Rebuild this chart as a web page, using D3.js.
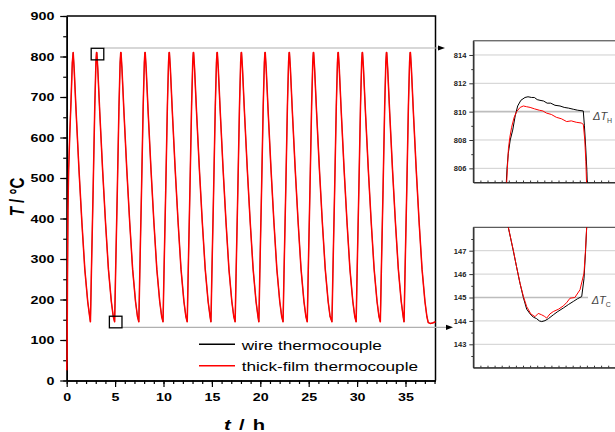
<!DOCTYPE html>
<html>
<head>
<meta charset="utf-8">
<script src="https://cdn.jsdelivr.net/npm/d3@7"></script>
<style>
  body { margin: 0; background: #fff; }
  svg { display: block; font-family: Arial, "Liberation Sans", sans-serif; }
</style>
</head>
<body>
<svg id="chart" width="615" height="432"></svg>
<script>
//DATA (main chart, t in h, T in °C)
const troughTimes = [2.45, 4.95, 7.45, 9.95, 12.45, 14.9, 17.4, 19.85, 22.35, 24.85, 27.4, 29.9, 32.4, 34.85, 37.35];
const warmUp = [[0, 25], [0.04, 60], [0.08, 250], [0.13, 420], [0.2, 520], [0.32, 610], [0.45, 692], [0.58, 785], [0.67, 810]];
const heatUp = [[0, 145], [0.04, 190], [0.1, 265], [0.28, 470], [0.45, 676], [0.57, 785], [0.63, 810], [0.66, 810]];
const coolDown = [[0.1, 770], [0.3, 665], [0.6, 520], [0.9, 390], [1.2, 275], [1.5, 195], [1.7, 158]];
const endHold = [[37.55, 141], [37.8, 142], [38.1, 145]];
const xTicks = [0, 5, 10, 15, 20, 25, 30, 35];
const yTicks = [0, 100, 200, 300, 400, 500, 600, 700, 800, 900];
const seriesNames = ['wire thermocouple', 'thick-film thermocouple'];
const seriesColors = ['#000000', '#ff0000'];

//DATA (insets, x in arbitrary time steps)
const hotWire = [[4.55, 804], [4.75, 806], [4.93, 807.06], [5.2, 808.0], [5.55, 808.7], [5.9, 809.7], [6.25, 810.4], [6.7, 810.8], [7.28, 811.0], [7.7, 811.05], [8.22, 811.0], [8.6, 811.0], [9.0, 810.85], [9.39, 810.8], [9.9, 810.75], [10.4, 810.6], [10.9, 810.6], [11.5, 810.45], [12.21, 810.4], [12.8, 810.3], [13.4, 810.25], [14.08, 810.17], [14.7, 810.1], [15.49, 810.05], [15.65, 809.0], [15.83, 807.5], [16.0, 805.8], [16.11, 804]];
const hotFilm = [[4.6, 804], [4.8, 806], [4.95, 807.4], [5.15, 808.2], [5.4, 808.9], [5.75, 809.6], [6.1, 810.0], [6.6, 810.3], [7.05, 810.4], [7.5, 810.35], [8.0, 810.3], [8.6, 810.2], [9.3, 810.1], [9.8, 810.05], [10.3, 809.9], [11.0, 809.8], [11.7, 809.6], [12.4, 809.5], [13.15, 809.3], [13.8, 809.35], [14.5, 809.25], [15.2, 809.2], [15.5, 809.1], [15.7, 808], [15.85, 806.5], [15.95, 805], [16.0, 804]];
const coldWire = [[4.8, 148.5], [4.93, 148], [5.63, 147.0], [6.1, 146.3], [6.58, 145.6], [7.05, 145.0], [7.52, 144.5], [8.0, 144.3], [8.45, 144.16], [8.9, 144.1], [9.3, 144.0], [9.63, 143.97], [10.1, 144.01], [10.6, 144.1], [11.27, 144.26], [11.9, 144.4], [12.68, 144.55], [13.4, 144.7], [14.08, 144.83], [14.7, 144.95], [15.27, 145.04], [15.59, 145.8], [15.8, 146.9], [15.97, 148], [16.05, 148.5]];
const coldFilm = [[4.8, 148.5], [4.93, 148], [5.63, 147.03], [6.1, 146.3], [6.58, 145.61], [7.05, 145.05], [7.52, 144.61], [8.1, 144.3], [8.69, 144.18], [9.15, 144.32], [9.63, 144.26], [10.0, 144.2], [10.34, 144.12], [10.8, 144.3], [11.27, 144.4], [12.0, 144.5], [12.68, 144.64], [13.2, 144.8], [13.62, 144.97], [14.3, 145.0], [15.03, 145.33], [15.59, 146.04], [15.8, 147.0], [15.97, 148], [16.05, 148.5]];
const hotTicks = [806, 808, 810, 812, 814];
const coldTicks = [143, 144, 145, 146, 147];

//ZOOM BOXES (t, T)
const zoomBoxes = [{t: 3.18, T: 806}, {t: 5.06, T: 144.4}];

const stretch = 'scale(1.3,1)';
const svg = d3.select('#chart');

//BUILD MAIN SERIES FROM THE CYCLE PIECES
const buildSeries = () => {
    const pts = warmUp.map(d => [d[0], d[1]]);
    const firstPeak = warmUp[warmUp.length - 1][0];
    coolDown.forEach(d => pts.push([firstPeak + d[0], d[1]]));
    troughTimes.forEach((t0, i) => {
        if (i === troughTimes.length - 1) {
            pts.push([t0, 143]);
            endHold.forEach(d => pts.push(d));
            return;
        }
        heatUp.forEach(d => pts.push([t0 + d[0], d[1]]));
        const peak = t0 + heatUp[heatUp.length - 1][0];
        coolDown.forEach(d => pts.push([peak + d[0], d[1]]));
    });
    return pts;
}
const mainSeries = buildSeries();

//MAIN SCALES
const x = d3.scaleLinear().domain([0, 38.1]).range([66.7, 435.5]);
const y = d3.scaleLinear().domain([0, 900]).range([380.5, 16]);

//MAIN FRAME
svg.append('path')
    .attr('d', `M${x(0)},${y(900)}H${x(38.1)}V${y(0)}`)
    .attr('fill', 'none').attr('stroke', '#000').attr('stroke-width', 1.5);

//MAIN AXES
const xMinor = svg.append('g').attr('transform', `translate(0,${y(0)})`)
    .call(d3.axisBottom(x).tickValues(d3.range(0, 39, 1)).tickSize(3.5).tickSizeOuter(0).tickFormat(''));
const xAxis = svg.append('g').attr('transform', `translate(0,${y(0)})`)
    .call(d3.axisBottom(x).tickValues(xTicks).tickSize(6.5).tickSizeOuter(0).tickPadding(6).tickFormat(d3.format('d')));
const yMinor = svg.append('g').attr('transform', `translate(${x(0)},0)`)
    .call(d3.axisLeft(y).tickValues(d3.range(0, 901, 50)).tickSize(3.5).tickSizeOuter(0).tickFormat(''));
const yAxis = svg.append('g').attr('transform', `translate(${x(0)},0)`)
    .call(d3.axisLeft(y).tickValues(yTicks).tickSize(6.5).tickSizeOuter(0).tickPadding(3).tickFormat(d3.format('d')));

[xMinor, xAxis, yMinor, yAxis].forEach(g => {
    g.select('.domain').attr('stroke-width', 1.5);
    g.selectAll('.tick line').attr('stroke-width', 1.2);
    g.selectAll('text')
        .attr('font-size', 11).attr('font-weight', 'bold').attr('fill', '#000')
        .attr('font-family', 'Arial, "Liberation Sans", sans-serif')
        .attr('transform', stretch);
});

//AXIS TITLES
const yTitle = svg.append('text')
    .attr('transform', `translate(23.5,197) ${stretch} rotate(-90)`)
    .attr('text-anchor', 'middle').attr('font-size', 15).attr('font-weight', 'bold');
yTitle.append('tspan').attr('font-style', 'italic').text('T');
yTitle.append('tspan').text(' / °C');

const xTitle = svg.append('text')
    .attr('transform', `translate(244.5,430) ${stretch}`)
    .attr('text-anchor', 'middle').attr('font-size', 15.5).attr('font-weight', 'bold')
    .attr('word-spacing', 2);
xTitle.append('tspan').attr('font-style', 'italic').text('t');
xTitle.append('tspan').text(' / h');

//CONNECTORS TO INSETS (drawn under the curves)
const connectors = [{y: 48, x0: 104, x1: 445}, {y: 327.3, x0: 122, x1: 453}];
connectors.forEach(c => {
    svg.append('line')
        .attr('x1', c.x0).attr('x2', c.x1 - 6).attr('y1', c.y).attr('y2', c.y)
        .attr('stroke', '#b0b0b0').attr('stroke-width', 1.2);
    svg.append('path')
        .attr('d', `M${c.x1},${c.y}L${c.x1 - 7},${c.y - 2.6}L${c.x1 - 7},${c.y + 2.6}Z`)
        .attr('fill', '#000');
});

//MAIN CURVES (wire curve sits hidden under the thick-film curve)
const mainLine = d3.line().x(d => x(d[0])).y(d => y(d[1]));
[mainSeries, mainSeries].forEach((s, i) => {
    svg.append('path')
        .datum(s)
        .attr('d', mainLine)
        .attr('fill', 'none')
        .attr('stroke', seriesColors[i])
        .attr('stroke-width', i === 0 ? 0.6 : 1.5)
        .attr('stroke-linejoin', 'round');
});

//ZOOM BOXES
zoomBoxes.forEach(b => {
    svg.append('rect')
        .attr('x', x(b.t) - 6.3).attr('y', y(b.T) - 5.8)
        .attr('width', 12.6).attr('height', 11.6)
        .attr('fill', 'none').attr('stroke', '#000').attr('stroke-width', 1.3);
});

//LEGEND
seriesNames.forEach((name, i) => {
    const ly = 344.3 + i * 21.4;
    svg.append('line')
        .attr('x1', 199).attr('x2', 235).attr('y1', ly).attr('y2', ly)
        .attr('stroke', seriesColors[i]).attr('stroke-width', 1.4);
    svg.append('text')
        .attr('transform', `translate(241.7,${ly + 5.3}) ${stretch}`)
        .attr('font-size', 13.2).attr('fill', '#000')
        .text(name);
});

//INSETS
const ux = d3.scaleLinear().domain([0, 20]).range([473.3, 615.3]);

const drawInset = (opts) => {
    const iy = d3.scaleLinear().domain(opts.domain).range([opts.bottom, opts.top]);
    const g = svg.append('g');
    const clipId = 'clip-' + opts.name;
    g.append('clipPath').attr('id', clipId)
        .append('rect').attr('x', ux(0)).attr('y', opts.top)
        .attr('width', 620 - ux(0)).attr('height', opts.bottom - opts.top);

    //GRID
    opts.ticks.forEach(v => {
        const isRef = v === opts.refValue;
        g.append('line')
            .attr('x1', ux(0)).attr('x2', isRef ? opts.refEnd : 615)
            .attr('y1', iy(v)).attr('y2', iy(v))
            .attr('stroke', isRef ? '#bdbdbd' : '#cfcfcf')
            .attr('stroke-width', isRef ? 1.6 : 1);
    });

    //FRAME
    g.append('path')
        .attr('d', `M616,${opts.top}H${ux(0)}V${opts.bottom}H616`)
        .attr('fill', 'none').attr('stroke', '#333').attr('stroke-width', 1);

    //AXES
    const yMin = g.append('g').attr('transform', `translate(${ux(0)},0)`)
        .call(d3.axisLeft(iy).tickValues(opts.minor).tickSize(2).tickSizeOuter(0).tickFormat(''));
    const yMaj = g.append('g').attr('transform', `translate(${ux(0)},0)`)
        .call(d3.axisLeft(iy).tickValues(opts.ticks).tickSize(4).tickSizeOuter(0).tickPadding(3).tickFormat(d3.format('d')));
    const xIn = g.append('g').attr('transform', `translate(0,${opts.bottom})`)
        .call(d3.axisTop(ux).tickValues(d3.range(1, 20, 1)).tickSize(2).tickSizeOuter(0).tickFormat(''));
    [yMin, yMaj, xIn].forEach(a => {
        a.select('.domain').attr('stroke', '#333');
        a.selectAll('.tick line').attr('stroke', '#333');
    });
    yMaj.selectAll('text')
        .attr('font-size', 7.5).attr('font-weight', 'bold').attr('fill', '#222')
        .attr('font-family', 'Arial, "Liberation Sans", sans-serif');

    //CURVES
    const inLine = d3.line().x(d => ux(d[0])).y(d => iy(d[1]));
    [opts.wire, opts.film].forEach((s, i) => {
        g.append('path')
            .datum(s)
            .attr('clip-path', `url(#${clipId})`)
            .attr('d', inLine)
            .attr('fill', 'none')
            .attr('stroke', seriesColors[i])
            .attr('stroke-width', 1);
    });

    //DELTA LABEL
    const lab = g.append('text')
        .attr('x', opts.labelX).attr('y', opts.labelY)
        .attr('font-size', 11).attr('font-style', 'italic').attr('fill', '#444');
    lab.append('tspan').text('ΔT');
    lab.append('tspan').attr('font-size', 7).attr('dy', 3).attr('font-style', 'normal').text(opts.sub);
}

drawInset({
    name: 'hot', domain: [805, 815], top: 40.8, bottom: 182.5,
    ticks: hotTicks, minor: [807, 809, 811, 813],
    refValue: 810, refEnd: 590, wire: hotWire, film: hotFilm,
    labelX: 593, labelY: 120, sub: 'H'
});
drawInset({
    name: 'cold', domain: [142, 148], top: 227.3, bottom: 367.7,
    ticks: coldTicks, minor: [142.5, 143.5, 144.5, 145.5, 146.5, 147.5],
    refValue: 145, refEnd: 588, wire: coldWire, film: coldFilm,
    labelX: 591.7, labelY: 304, sub: 'C'
});
</script>
</body>
</html>
